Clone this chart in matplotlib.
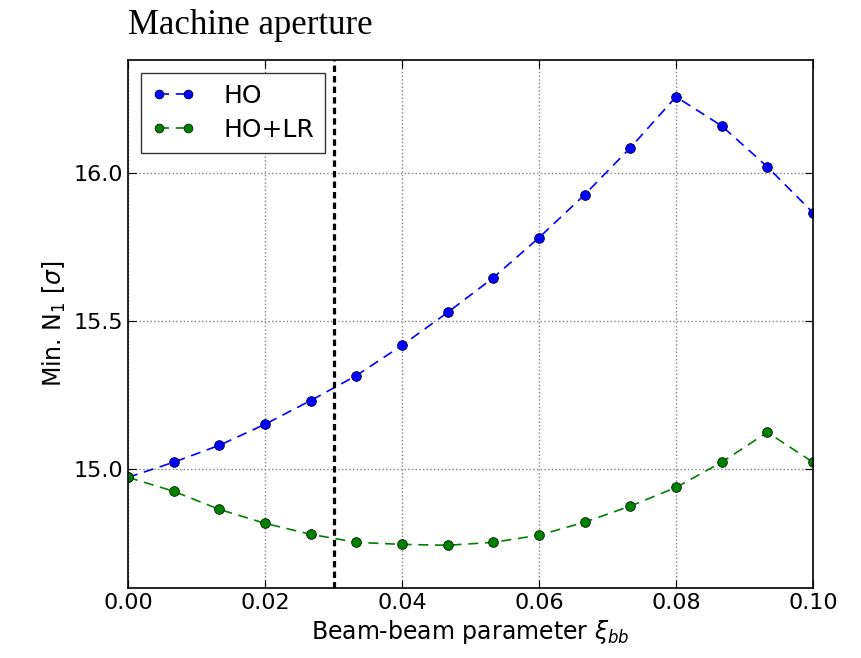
import numpy as np
import matplotlib
matplotlib.use('Agg')
import matplotlib.pyplot as plt

# beam-beam parameter values (16 steps from 0 to 0.1)
xi_bb = [0.0, 0.00667, 0.01333, 0.02, 0.02667, 0.03333, 0.04, 0.04667,
         0.05333, 0.06, 0.06667, 0.07333, 0.08, 0.08667, 0.09333, 0.1]

# minimum normalised aperture [sigma]
n1_ho = [14.973, 15.024, 15.081, 15.152, 15.232, 15.316, 15.418, 15.529,
         15.646, 15.781, 15.926, 16.084, 16.256, 16.158, 16.020, 15.865]
n1_ho_lr = [14.973, 14.926, 14.865, 14.818, 14.781, 14.754, 14.747, 14.744,
            14.754, 14.778, 14.822, 14.876, 14.939, 15.024, 15.125, 15.024]

xi_nominal = 0.03

fig = plt.figure(figsize=(8.61, 6.58), dpi=100)
ax = fig.add_axes([128/861, 70/658, 685/861, 528/658])

ax.plot(xi_bb, n1_ho, '--', color='blue', marker='o', markersize=7,
        markeredgecolor='#000033', markeredgewidth=0.6, dashes=(6, 4), lw=1.2, label='HO')
ax.plot(xi_bb, n1_ho_lr, '--', color='green', marker='o', markersize=7,
        markeredgecolor='#002200', markeredgewidth=0.6, dashes=(6, 4), lw=1.2, label='HO+LR')
ax.axvline(xi_nominal, color='black', ls='--', lw=2.3, dashes=(2.0, 1.3))

ax.set_xlim(0, 0.1)
ax.set_ylim(14.6, 16.38)
ax.set_xticks([0.0, 0.02, 0.04, 0.06, 0.08, 0.1])
ax.set_xticklabels(['0.00', '0.02', '0.04', '0.06', '0.08', '0.10'])
ax.set_yticks([15.0, 15.5, 16.0])
ax.grid(True, ls=':', color='gray', lw=1)
ax.tick_params(labelsize=16, direction='in', length=6)
ax.tick_params(top=True, right=True)
for s in ax.spines.values():
    s.set_linewidth(1.2)

ax.set_xlabel(r'Beam-beam parameter $\xi_{bb}$', fontsize=17)
ax.set_ylabel(r'Min. N$_1$ [$\sigma$]', fontsize=17)

leg = ax.legend(loc='upper left', numpoints=2, fontsize=18, fancybox=False,
                framealpha=1, edgecolor='#333333', borderaxespad=0.5,
                borderpad=0.45, labelspacing=0.4, handlelength=1.75,
                handletextpad=1.1, markerscale=0.9)
leg.get_frame().set_linewidth(1)

fig.text(128/861, 1 - 25/658, 'Machine aperture', family='Liberation Serif',
         fontsize=25, va='center', ha='left')

plt.savefig('out.png', dpi=100)
